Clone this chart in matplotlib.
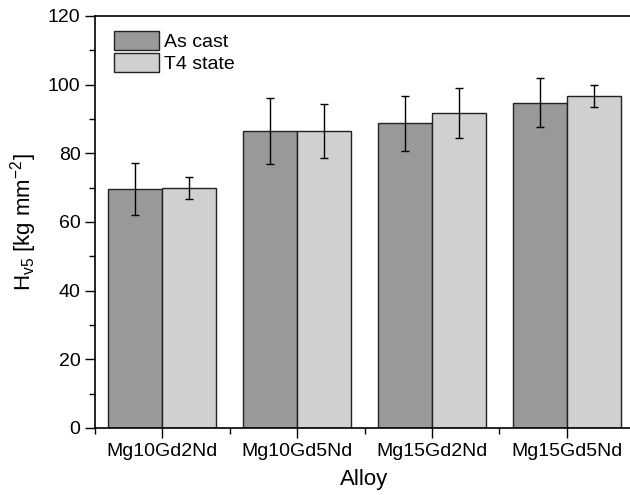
import matplotlib
matplotlib.use("Agg")
import matplotlib.pyplot as plt
import numpy as np
from matplotlib.ticker import MultipleLocator

plt.rcParams['font.family'] = ['Liberation Sans', 'DejaVu Sans']

alloys = ["Mg10Gd2Nd", "Mg10Gd5Nd", "Mg15Gd2Nd", "Mg15Gd5Nd"]
as_cast = [69.6, 86.5, 88.7, 94.8]
as_cast_err = [7.5, 9.7, 8.0, 7.1]
t4_state = [69.9, 86.5, 91.7, 96.8]
t4_err = [3.1, 7.9, 7.2, 3.2]

fig = plt.figure(figsize=(6.3, 4.95), dpi=100)
ax = fig.add_axes([95/630, 1-428/495, (634-95)/630, (428-16)/495])

x = np.arange(len(alloys))
w = 0.4
ekw = dict(ecolor='black', elinewidth=1.0, capsize=3, capthick=1.0)
ax.bar(x - w/2, as_cast, w, yerr=as_cast_err, color='#999999', edgecolor='#222222',
       linewidth=1.0, label='As cast', error_kw=ekw, zorder=2)
ax.bar(x + w/2, t4_state, w, yerr=t4_err, color='#d0d0d0', edgecolor='#222222',
       linewidth=1.0, label='T4 state', error_kw=ekw, zorder=2)

ax.set_xlim(-0.5, 3.5)
ax.set_ylim(0, 120)
ax.set_xticks(x)
ax.set_xticklabels(alloys)
ax.set_xticks([-0.5, 0.5, 1.5, 2.5, 3.5], minor=True)
ax.yaxis.set_major_locator(MultipleLocator(20))
ax.yaxis.set_minor_locator(MultipleLocator(10))
ax.tick_params(axis='both', which='major', direction='out', length=7, width=1, labelsize=14)
ax.tick_params(axis='both', which='minor', direction='out', length=4, width=1)

for s in ax.spines.values():
    s.set_linewidth(1.2)

ax.set_xlabel('Alloy', fontsize=16, labelpad=7)
ax.set_ylabel(r'H$_{\mathregular{v5}}$ [kg mm$^{\mathregular{-2}}$]', fontsize=16, labelpad=6)

ax.legend(loc='upper left', frameon=False, fontsize=14, handlelength=2.27, handleheight=1.13,
          handletextpad=0.3, labelspacing=0.1, borderaxespad=0.5, borderpad=0.5,
          bbox_to_anchor=(0.0, 1.011))

fig.savefig('out.png', dpi=100)
